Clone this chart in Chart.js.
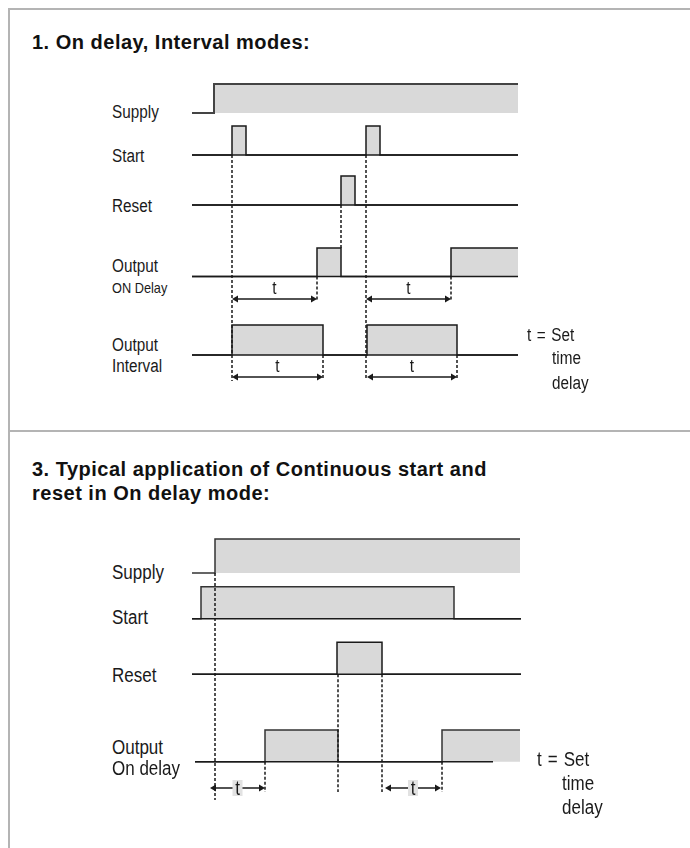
<!DOCTYPE html>
<html>
<head>
<meta charset="utf-8">
<script src="https://cdn.jsdelivr.net/npm/chart.js@4.4.1/dist/chart.umd.min.js"></script>
<style>
  html, body { margin: 0; padding: 0; background: #fff; }
  #page { position: relative; width: 690px; height: 848px; overflow: hidden;
          font-family: "Liberation Sans", Arial, sans-serif; color: #1a1a1a; }
  .rule { position: absolute; background: #b4b4b4; }
  .title { position: absolute; left: 32px; font: bold 20px "Liberation Sans", Arial, sans-serif;
           letter-spacing: 0.5px; color: #111; line-height: 24px; }
  /* condensed look: the reference uses a narrow grotesque */
  .lbl { position: absolute; white-space: nowrap; line-height: 1;
         transform-origin: 0 50%; transform: translateY(-50%) scaleX(0.85); }
  .note { word-spacing: 1.5px; }
  canvas { position: absolute; }
</style>
</head>
<body>
<div id="page">
  <div class="rule" style="left:8px;top:8px;width:682px;height:2px"></div>
  <div class="rule" style="left:8px;top:8px;width:2px;height:840px"></div>
  <div class="rule" style="left:8px;top:430px;width:682px;height:2px"></div>
  <div class="title" style="top:30px">1. On delay, Interval modes:</div>
  <div class="title" style="top:457px">3. Typical application of Continuous start and<br>reset in On delay mode:</div>
  <canvas id="top" width="360" height="340" style="left:180px;top:60px"></canvas>
  <canvas id="bottom" width="360" height="300" style="left:180px;top:520px"></canvas>
</div>
<script>
// ---- data: edge times (arbitrary time units, 0 = left end of traces) ----
const topSignals = ["Supply", "Start", "Reset", "Output", "Output"];
const topSubLabels = ["", "", "", "ON Delay", "Interval"];
const topEnd = 326;
const topSupply = [22];
const topStart = [40, 54, 174, 188];
const topReset = [149, 163];
const topOnDelay = [125, 149, 259];
const topInterval = [40, 131, 175, 265];
const topDelayArrows = [[40, 125], [174, 259]];
const topIntervalArrows = [[40, 131], [175, 265]];
const topMarkers = [40, 174, 149, 125, 259, 131, 265];

const botSignals = ["Supply", "Start", "Reset", "Output"];
const botSubLabels = ["", "", "", "On delay"];
const botEnd = 328;
const botSupply = [23];
const botStart = [9, 262];
const botReset = [145, 190];
const botOnDelay = [73, 146, 250];
const botDelayArrows = [[18, 73], [193, 249]];
const botMarkers = [23, 146, 190, 73, 250];

const noteLines = ["t = Set", "time", "delay"];

// ---- layout (canvas units) ----
const INK = "#1a1a1a";
const FILL = "#d9d9d9";
const TOP = {
  top: 60, yMax: 340,
  lanes: [53, 95, 145, 216.5, 295],
  amp: [29, 29, 29, 28.5, 30],
  markerSpan: [[95, 321], [95, 320], [145, 188], [216.5, 240], [216.5, 240], [295, 318], [295, 318]],
  delayY: 239, intervalY: 317,
  labelDy: [[-1], [1], [1], [-11, 10], [-10, 11]],
  labelSize: [[18], [18], [18], [18, 15], [18, 18]],
  note: { x: 527, indent: 25, y: [335, 358, 383], size: 18 },
};
const BOT = {
  top: 520, yMax: 300,
  lanes: [53, 98.7, 154.3, 241.7],
  amp: [34, 32, 32, 31.7],
  markerSpan: [[53, 280], [154.3, 272], [154.3, 272], [241.7, 272], [241.7, 272]],
  arrowY: 268,
  labelDy: [[-1], [-2], [1], [-15, 6]],
  labelSize: [[20], [20], [20], [20, 20]],
  note: { x: 537, indent: 25, y: [759, 783, 807], size: 20 },
};

function wavePoints(edges, from, to, base, amp) {
  const pts = [{ x: from, y: base }];
  let high = false;
  edges.forEach(e => { high = !high; pts.push({ x: e, y: high ? base - amp : base }); });
  pts.push({ x: to, y: high ? base - amp : base });
  return pts;
}

function trace(edges, from, to, base, amp, color, width) {
  return {
    data: wavePoints(edges, from, to, base, amp),
    stepped: "before",
    fill: { value: base },
    backgroundColor: FILL,
    borderColor: color || INK,
    borderWidth: width || 1.5,
    pointRadius: 0,
    order: 2,
  };
}

function hline(from, to, y) {
  return { data: [{ x: from, y }, { x: to, y }], borderColor: INK, borderWidth: 1.5, pointRadius: 0, fill: false, order: 1 };
}

function marker(x, span) {
  return {
    data: [{ x, y: span[0] }, { x, y: span[1] }],
    borderColor: INK, borderWidth: 1.5, borderDash: [3, 2], pointRadius: 0, fill: false, order: 0,
  };
}

function arrow(pair, y, tag) {
  const r = 4;
  return {
    data: [{ x: pair[0] + r, y }, { x: pair[1] - r, y }],
    borderColor: INK, borderWidth: 1.5, fill: false, order: 0,
    pointStyle: "triangle", pointRadius: r, pointRotation: [-90, 90],
    pointBackgroundColor: INK, pointBorderColor: INK, pointBorderWidth: 0,
    tag,
  };
}

// draws the "t" over each arrow
const tLabels = {
  id: "tLabels",
  afterDatasetsDraw(chart) {
    const ctx = chart.ctx;
    chart.data.datasets.forEach((ds, i) => {
      if (!ds.tag) return;
      const pts = chart.getDatasetMeta(i).data;
      const x = (pts[0].x + pts[pts.length - 1].x) / 2;
      const y = pts[0].y;
      ctx.save();
      ctx.textAlign = "center";
      ctx.textBaseline = "middle";
      if (ds.tag === "boxed") {
        ctx.fillStyle = "#e2e2e2";
        ctx.fillRect(x - 5, y - 8, 10, 16);
        ctx.translate(x, y + 1);
        ctx.scale(0.85, 1);
        ctx.font = '20px "Liberation Sans", Arial, sans-serif';
      } else {
        ctx.translate(x, y - 10);
        ctx.scale(0.85, 1);
        ctx.font = '18px "Liberation Sans", Arial, sans-serif';
      }
      ctx.fillStyle = INK;
      ctx.fillText("t", 0, 0);
      ctx.restore();
    });
  },
};

function makeChart(id, yMax, datasets) {
  return new Chart(document.getElementById(id), {
    type: "line",
    data: { datasets },
    options: {
      responsive: false,
      animation: false,
      events: [],
      layout: { padding: 0, autoPadding: false },
      scales: {
        x: { type: "linear", min: -12, max: 348, display: false },
        y: { type: "linear", min: 0, max: yMax, reverse: true, display: false },
      },
      plugins: { legend: { display: false }, tooltip: { enabled: false } },
    },
    plugins: [tLabels],
  });
}

function addLabels(signals, subs, L) {
  const page = document.getElementById("page");
  signals.forEach((name, i) => {
    const texts = subs[i] ? [name, subs[i]] : [name];
    texts.forEach((t, j) => {
      const d = document.createElement("div");
      d.className = "lbl";
      d.textContent = t;
      d.style.left = "112px";
      d.style.top = (L.top + L.lanes[i] + L.labelDy[i][j]) + "px";
      d.style.fontSize = L.labelSize[i][j] + "px";
      page.appendChild(d);
    });
  });
  noteLines.forEach((t, j) => {
    const d = document.createElement("div");
    d.className = "lbl note";
    d.textContent = t;
    d.style.left = (L.note.x + (j ? L.note.indent : 0)) + "px";
    d.style.top = L.note.y[j] + "px";
    d.style.fontSize = L.note.size + "px";
    page.appendChild(d);
  });
}

// ---- top diagram ----
const tl = TOP.lanes, ta = TOP.amp;
const topSets = [
  trace(topSupply, 0, topEnd, tl[0], ta[0], "#444", 2),
  trace(topStart, 0, topEnd, tl[1], ta[1]),
  trace(topReset, 0, topEnd, tl[2], ta[2]),
  trace(topOnDelay, 0, topEnd, tl[3], ta[3]),
  trace(topInterval, 0, topEnd, tl[4], ta[4]),
  hline(0, topEnd, tl[1]),
  hline(0, topEnd, tl[2]),
  hline(0, topEnd, tl[3]),
  hline(0, topEnd, tl[4]),
  ...topMarkers.map((x, i) => marker(x, TOP.markerSpan[i])),
  ...topDelayArrows.map(p => arrow(p, TOP.delayY, "above")),
  ...topIntervalArrows.map(p => arrow(p, TOP.intervalY, "above")),
];
makeChart("top", TOP.yMax, topSets);
addLabels(topSignals, topSubLabels, TOP);

// ---- bottom diagram ----
const bl = BOT.lanes, ba = BOT.amp;
const botSets = [
  trace(botSupply, 0, botEnd, bl[0], ba[0], "#333", 1.5),
  trace(botStart, 0, botEnd + 1, bl[1], ba[1], "#333", 1.5),
  trace(botReset, 0, botEnd + 1, bl[2], ba[2]),
  trace(botOnDelay, 3, botEnd, bl[3], ba[3], "#333", 1.5),
  hline(0, botEnd + 1, bl[1]),
  hline(0, botEnd + 1, bl[2]),
  hline(3, 301, bl[3]),
  ...botMarkers.map((x, i) => marker(x, BOT.markerSpan[i])),
  ...botDelayArrows.map(p => arrow(p, BOT.arrowY, "boxed")),
];
makeChart("bottom", BOT.yMax, botSets);
addLabels(botSignals, botSubLabels, BOT);
</script>
</body>
</html>
